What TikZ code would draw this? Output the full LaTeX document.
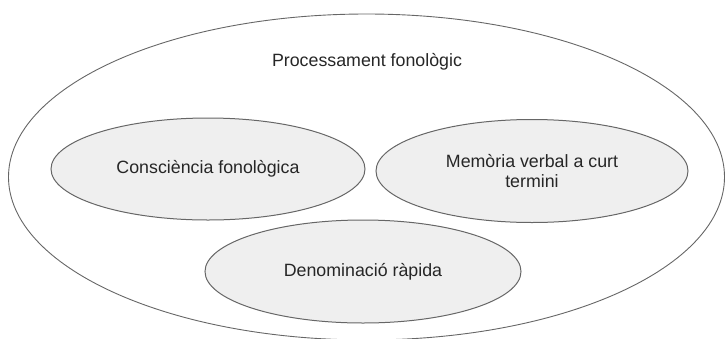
\documentclass[tikz,border=0pt]{standalone}
\usepackage{fontspec}
\setmainfont{Liberation Sans}
\usetikzlibrary{shapes.geometric}

\definecolor{lineGray}{HTML}{666666}
\definecolor{fillGray}{HTML}{EFEFEF}
\definecolor{textGray}{HTML}{262626}

\tikzset{
    outerbox/.style={ellipse, draw=lineGray, line width=0.9pt, inner sep=0pt,
        minimum width=716pt, minimum height=326pt},
    partbox/.style={ellipse, draw=lineGray, fill=fillGray, line width=1pt,
        inner sep=0pt, align=center, text=textGray,
        font=\fontsize{17.8pt}{20pt}\selectfont},
    titlelabel/.style={text=textGray, font=\fontsize{17.8pt}{20pt}\selectfont}
}

\begin{document}
\begin{tikzpicture}[x=1pt, y=-1pt]

    % Fix the page to the size of the reference
    \useasboundingbox (0,0) rectangle (726,338);

    % Outer ellipse and its title
    \node[outerbox] (proc) at (366.5,177) {};
    \node[titlelabel] (title) at (367,62) {Processament fonològic};

    % The three parts
    \node[partbox, minimum width=314pt, minimum height=102pt] (consc) at (208,169)
        {Consciència fonològica};
    \node[partbox, minimum width=312pt, minimum height=103pt] (memo) at (532,171)
        {Memòria verbal a curt\\termini};
    \node[partbox, minimum width=316pt, minimum height=103pt] (denom) at (363,271.5)
        {Denominació ràpida};

\end{tikzpicture}
\end{document}
